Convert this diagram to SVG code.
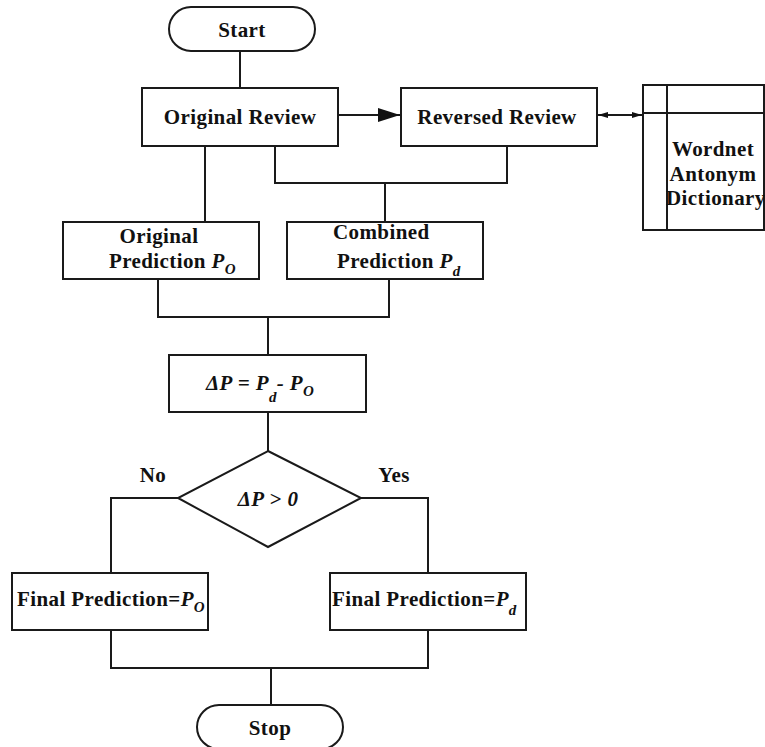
<svg xmlns="http://www.w3.org/2000/svg" width="765" height="747" viewBox="0 0 765 747">
<defs>
<style>
.s{fill:#fff;stroke:#1a1a1a;stroke-width:2}
.c{fill:none;stroke:#1a1a1a;stroke-width:2}
.t{font-family:"Liberation Serif","Times New Roman",serif;font-weight:bold;font-size:21px;fill:#111;letter-spacing:0.4px}
.i{font-style:italic}
.sub{font-size:15px;font-style:italic}
</style>
<marker id="big" viewBox="0 0 22 14" refX="22" refY="7" markerWidth="22" markerHeight="14" markerUnits="userSpaceOnUse" orient="auto"><path d="M0,0 L22,7 L0,14 Z" fill="#111"/></marker>
<marker id="sm" viewBox="0 0 10 6" refX="10" refY="3" markerWidth="10" markerHeight="6" markerUnits="userSpaceOnUse" orient="auto-start-reverse"><path d="M0,0 L10,3 L0,6 Z" fill="#111"/></marker>
</defs>
<rect width="765" height="747" fill="#fff"/>
<g id="connectors">
<path class="c" d="M240,51 V88"/>
<path class="c" d="M338,115 H400" marker-end="url(#big)"/>
<path class="c" d="M598,115 H642" marker-start="url(#sm)" marker-end="url(#sm)"/>
<path class="c" d="M205,146 V222"/>
<path class="c" d="M275,146 V183 H507 V146"/>
<path class="c" d="M385,183 V222"/>
<path class="c" d="M158,279 V317 H389 V279"/>
<path class="c" d="M268,317 V355"/>
<path class="c" d="M268,412 V451"/>
<path class="c" d="M178,498 H111 V573"/>
<path class="c" d="M361,498 H428 V573"/>
<path class="c" d="M111,630 V668 H428 V630"/>
<path class="c" d="M271,668 V705"/>
</g>
<g id="start"><rect class="s" x="169" y="7" width="146" height="44" rx="22"/><text class="t" x="242" y="37" text-anchor="middle">Start</text></g>
<g id="original-review"><rect class="s" x="142" y="88" width="196" height="58"/><text class="t" x="240" y="124" text-anchor="middle" letter-spacing="0.6">Original Review</text></g>
<g id="reversed-review"><rect class="s" x="401" y="88" width="196" height="58"/><text class="t" x="497" y="124" text-anchor="middle" letter-spacing="0.9">Reversed Review</text></g>
<g id="dictionary"><rect class="s" x="643" y="85" width="121" height="145"/><path class="c" d="M667,85 V230 M643,113 H764"/>
<text class="t" letter-spacing="0.8" x="713" y="156" text-anchor="middle">Wordnet</text>
<text class="t" letter-spacing="0.8" x="713" y="181" text-anchor="middle">Antonym</text>
<text class="t" letter-spacing="0.6" x="666" y="205">Dictionary</text></g>
<g id="original-prediction"><rect class="s" x="63" y="222" width="196" height="57"/><text class="t" x="159" y="243" text-anchor="middle" letter-spacing="0.8">Original</text><text class="t" x="109" y="268" letter-spacing="0.6">Prediction <tspan class="i">P</tspan><tspan class="sub" dy="6">O</tspan></text></g>
<g id="combined-prediction"><rect class="s" x="287" y="222" width="196" height="57"/><text class="t" x="333" y="239" letter-spacing="0.8">Combined</text><text class="t" x="337" y="268" letter-spacing="0.6">Prediction <tspan class="i">P</tspan><tspan class="sub" dy="8">d</tspan></text></g>
<g id="delta"><rect class="s" x="169" y="355" width="197" height="57"/><text class="t i" x="206" y="390">ΔP = P<tspan class="sub" dy="12">d</tspan><tspan dy="-12">- P</tspan><tspan class="sub" dy="6">O</tspan></text></g>
<g id="decision"><path class="s" d="M268,451 L361,498 L268,547 L178,498 Z"/><text class="t i" x="268" y="506" text-anchor="middle">ΔP &gt; 0</text></g>
<text class="t" x="153" y="482" text-anchor="middle">No</text>
<text class="t" x="394" y="482" text-anchor="middle">Yes</text>
<g id="final-o"><rect class="s" x="12" y="573" width="196" height="57"/><text class="t" x="17" y="606" letter-spacing="0">Final Prediction=<tspan class="i">P</tspan><tspan class="sub" dy="6">O</tspan></text></g>
<g id="final-d"><rect class="s" x="330" y="573" width="196" height="57"/><text class="t" x="332" y="606" letter-spacing="0">Final Prediction=<tspan class="i">P</tspan><tspan class="sub" dy="9">d</tspan></text></g>
<g id="stop"><rect class="s" x="197" y="705" width="146" height="44" rx="22"/><text class="t" x="270" y="735" text-anchor="middle">Stop</text></g>
</svg>
